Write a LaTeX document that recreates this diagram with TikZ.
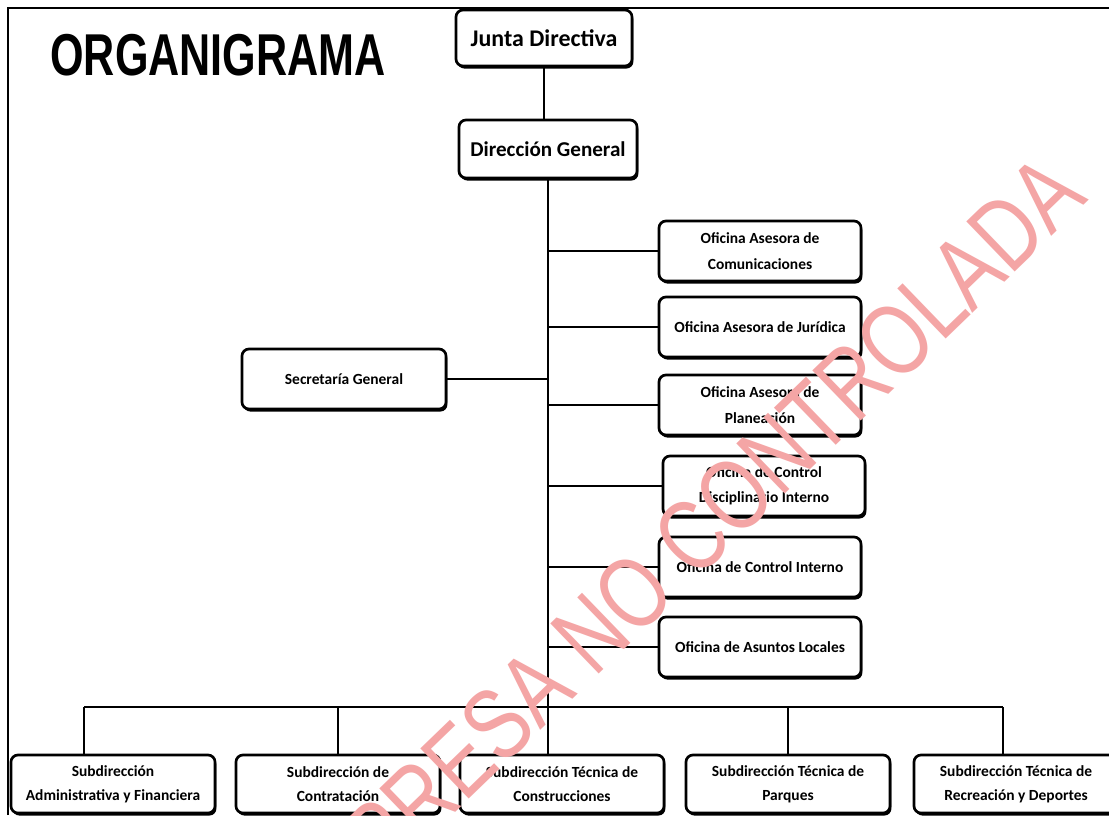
\documentclass[tikz,border=0pt]{standalone}
\usepackage{fontspec}
\setmainfont{Carlito}
\newfontfamily\titlefont{Liberation Sans}
\usetikzlibrary{shadows}
\definecolor{sello}{RGB}{244,165,165}
\tikzset{
  caja/.style={draw, line width=1.9pt, rounded corners=5pt, fill=white, align=center,
    inner sep=2pt, font=\bfseries\fontsize{11}{18}\selectfont,
    drop shadow={shadow xshift=1pt, shadow yshift=-1.8pt, opacity=1, fill=black}},
  cajagrande/.style={caja, minimum width=4.4cm, minimum height=1.4cm,
    font=\bfseries\fontsize{17}{18}\selectfont},
  oficina/.style={caja, minimum width=5.05cm, minimum height=1.5cm},
  subdir/.style={caja, minimum width=5.1cm, minimum height=1.45cm,
    font=\bfseries\fontsize{11}{17}\selectfont},
  linea/.style={line width=1.1pt}
}
\begin{document}
\begin{tikzpicture}[x=0.025cm, y=-0.025cm]
\clip (0,0) rectangle (1109,815);
\fill[white] (0,0) rectangle (1109,815);
% marco
\draw[line width=1pt] (8,815) -- (8,8) -- (1109,8);
\node[font=\titlefont\bfseries\fontsize{42}{42}\selectfont, xscale=0.73] (titulo) at (218,55) {ORGANIGRAMA};
% direccion
\node[cajagrande] (junta) at (544,38) {Junta Directiva};
\node[cajagrande, minimum width=4.45cm, minimum height=1.45cm,
  font=\bfseries\fontsize{15}{18}\selectfont] (direccion) at (548,149) {Dirección General};
\node[caja, minimum width=5.1cm, minimum height=1.5cm] (secretaria) at (344,379) {Secretaría General};
% oficinas asesoras
\node[oficina] (comunic) at (760,251) {Oficina Asesora de\\Comunicaciones};
\node[oficina] (juridica) at (760,327) {Oficina Asesora de Jurídica};
\node[oficina] (planeacion) at (760,405) {Oficina Asesora de\\Planeación};
\node[oficina] (disciplinario) at (764,486) {Oficina de Control\\Disciplinario Interno};
\node[oficina] (control) at (760,567) {Oficina de Control Interno};
\node[oficina] (locales) at (760,647) {Oficina de Asuntos Locales};
% subdirecciones
\node[subdir] (sadmin) at (113,784) {Subdirección\\Administrativa y Financiera};
\node[subdir] (scontrat) at (338,784) {Subdirección de\\Contratación};
\node[subdir] (sconstr) at (562,784) {Subdirección Técnica de\\Construcciones};
\node[subdir] (sparques) at (788,784) {Subdirección Técnica de\\Parques};
\node[subdir] (srecrea) at (1016,784) {Subdirección Técnica de\\Recreación y Deportes};
% conectores
\draw[linea] (junta.south) -- (junta.south |- direccion.north);
\draw[linea] (direccion.south) -- (direccion.south |- sconstr.north);
\foreach \n in {comunic,juridica,planeacion,disciplinario,control,locales}
  \draw[linea] (\n.west) -- (\n.west -| direccion.south);
\draw[linea] (secretaria.east) -- (secretaria.east -| direccion.south);
\coordinate (izq) at (84,707);
\coordinate (der) at (1003,707);
\draw[linea] (izq) -- (der);
\draw[linea] (izq) -- (izq |- sadmin.north);
\draw[linea] (scontrat.north) -- (scontrat.north |- izq);
\draw[linea] (sparques.north) -- (sparques.north |- izq);
\draw[linea] (der) -- (der |- srecrea.north);
% sello
\node[font=\titlefont\fontsize{72}{72}\selectfont, text=sello, rotate=44, xscale=0.78,
  anchor=base east, inner sep=0pt] (sello) at (1090,200) {IMPRESA NO CONTROLADA};
\end{tikzpicture}
\end{document}
